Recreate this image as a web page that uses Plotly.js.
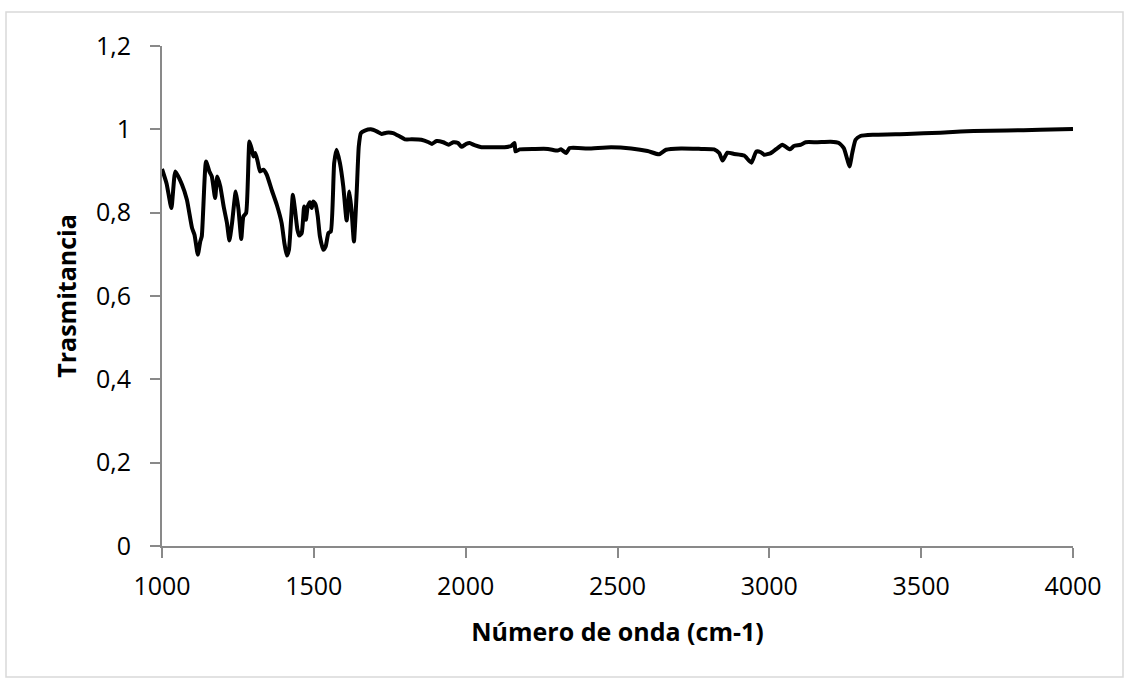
<!DOCTYPE html>
<html>
<head>
<meta charset="utf-8">
<script src="https://cdn.plot.ly/plotly-3.0.1.min.js"></script>
<style>
  html, body { margin: 0; padding: 0; background: #ffffff; }
  #chart { width: 1129px; height: 683px; }
</style>
</head>
<body>
<div id="chart"></div>
<script>
// FTIR spectrum: wavenumber (cm-1) vs transmittance
const waveNumber = [
  1000, 1015, 1031, 1044, 1066, 1082, 1099, 1107, 1118, 1126, 1131, 1145, 1156, 1164, 1175,
  1182, 1192, 1203, 1214, 1222, 1230, 1243, 1252, 1261, 1268, 1277, 1288, 1296, 1301, 1307,
  1315, 1323, 1334, 1345, 1361, 1378, 1394, 1403, 1411, 1418, 1425, 1431, 1438, 1446, 1452,
  1460, 1468, 1474, 1480, 1487, 1493, 1498, 1506, 1513, 1520, 1531, 1539, 1548, 1556, 1567,
  1575, 1586, 1597, 1608, 1617, 1624, 1632, 1641, 1648, 1655, 1668, 1688, 1707, 1723, 1739,
  1761, 1783, 1800, 1822, 1854, 1878, 1889, 1904, 1926, 1944, 1959, 1975, 1986, 2002, 2013,
  2029, 2052, 2096, 2128, 2150, 2161, 2164, 2178, 2227, 2271, 2303, 2314, 2331, 2342, 2402,
  2479, 2545, 2599, 2637, 2660, 2709, 2775, 2818, 2835, 2846, 2862, 2884, 2917, 2941, 2957,
  2972, 2983, 3005, 3027, 3043, 3068, 3081, 3103, 3120, 3158, 3202, 3229, 3245, 3257, 3264,
  3273, 3284, 3300, 3344, 3453, 3563, 3673, 3782, 3892, 4000
];
const transmittance = [
  0.905, 0.870, 0.811, 0.899, 0.867, 0.831, 0.763, 0.747, 0.699, 0.731, 0.743, 0.923, 0.899, 0.887, 0.835,
  0.887, 0.863, 0.815, 0.775, 0.733, 0.771, 0.851, 0.807, 0.737, 0.791, 0.799, 0.971, 0.951, 0.935, 0.943,
  0.923, 0.899, 0.903, 0.891, 0.855, 0.819, 0.775, 0.727, 0.697, 0.711, 0.783, 0.843, 0.807, 0.759, 0.745,
  0.751, 0.815, 0.783, 0.815, 0.825, 0.811, 0.827, 0.819, 0.791, 0.743, 0.711, 0.719, 0.751, 0.755, 0.919,
  0.951, 0.919, 0.863, 0.781, 0.851, 0.807, 0.731, 0.847, 0.959, 0.991, 0.997, 1.000, 0.995, 0.989, 0.992,
  0.991, 0.983, 0.976, 0.976, 0.975, 0.969, 0.965, 0.972, 0.969, 0.963, 0.969, 0.967, 0.958, 0.965, 0.967,
  0.962, 0.957, 0.957, 0.957, 0.960, 0.967, 0.947, 0.952, 0.953, 0.953, 0.949, 0.952, 0.943, 0.955, 0.954,
  0.957, 0.954, 0.948, 0.940, 0.951, 0.954, 0.953, 0.952, 0.943, 0.925, 0.944, 0.941, 0.937, 0.920, 0.947,
  0.945, 0.939, 0.943, 0.955, 0.963, 0.952, 0.960, 0.963, 0.969, 0.969, 0.970, 0.967, 0.955, 0.927, 0.911,
  0.943, 0.975, 0.984, 0.987, 0.989, 0.992, 0.996, 0.997, 0.999, 1.001
];

const xTickValues = [1000, 1500, 2000, 2500, 3000, 3500, 4000];
const xTickLabels = ['1000', '1500', '2000', '2500', '3000', '3500', '4000'];
const yTickValues = [0, 0.2, 0.4, 0.6, 0.8, 1, 1.2];
const yTickLabels = ['0', '0,2', '0,4', '0,6', '0,8', '1', '1,2'];

const xTitle = 'Número de onda (cm-1)';
const yTitle = 'Trasmitancia';

const W = 1129, H = 683;
const margin = { l: 162, r: 56, t: 46, b: 137, pad: 0 };
const plotW = W - margin.l - margin.r;
const plotH = H - margin.t - margin.b;
// outer chart frame, expressed in paper units of the plot area
const frame = { left: 6, top: 12, right: 1123, bottom: 677 };

const fontFamily = '"Open Sans", Lato, sans-serif';
const axisColor = '#898989';

const trace = {
  type: 'scatter',
  mode: 'lines',
  x: waveNumber,
  y: transmittance,
  line: { color: '#000000', width: 4, shape: 'spline', smoothing: 0.5 },
  hoverinfo: 'x+y'
};

const layout = {
  width: W,
  height: H,
  margin: margin,
  paper_bgcolor: '#ffffff',
  plot_bgcolor: '#ffffff',
  showlegend: false,
  font: { family: fontFamily, size: 25, color: '#000000' },
  xaxis: {
    range: [1000, 4000],
    tickvals: xTickValues,
    ticktext: xTickLabels,
    showgrid: false,
    zeroline: false,
    showline: true,
    linecolor: axisColor,
    linewidth: 2,
    ticks: 'outside',
    ticklen: 10,
    tickwidth: 2,
    tickcolor: axisColor,
    ticklabelstandoff: 7,
    tickfont: { family: fontFamily, size: 25, color: '#000000' },
    automargin: false,
    title: { text: xTitle, font: { family: fontFamily, size: 25, color: '#000000', weight: 'bold' }, standoff: 22 }
  },
  yaxis: {
    range: [0, 1.2],
    tickvals: yTickValues,
    ticktext: yTickLabels,
    showgrid: false,
    zeroline: false,
    showline: true,
    linecolor: axisColor,
    linewidth: 2,
    ticks: 'outside',
    ticklen: 10,
    tickwidth: 2,
    tickcolor: axisColor,
    ticklabelstandoff: 14,
    tickfont: { family: fontFamily, size: 25, color: '#000000' },
    automargin: false,
    title: { text: yTitle, font: { family: fontFamily, size: 25, color: '#000000', weight: 'bold' }, standoff: 12 }
  },
  shapes: [{
    type: 'rect',
    xref: 'paper', yref: 'paper',
    x0: (frame.left - margin.l) / plotW,
    x1: (frame.right - margin.l) / plotW,
    y0: (H - frame.bottom - margin.b) / plotH,
    y1: (H - frame.top - margin.b) / plotH,
    line: { color: '#d9d9d9', width: 1.5 },
    fillcolor: 'rgba(0,0,0,0)',
    layer: 'below'
  }]
};

Plotly.newPlot('chart', [trace], layout, { displayModeBar: false, staticPlot: true });
</script>
</body>
</html>
